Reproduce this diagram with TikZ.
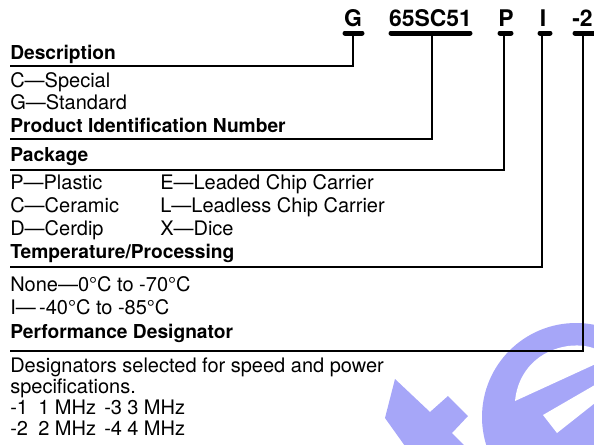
\documentclass[tikz,border=0pt]{standalone}
\usepackage{fontspec}
\setmainfont{TeX Gyre Heros}
\usetikzlibrary{calc}
\definecolor{wm}{RGB}{166,166,248}
\begin{document}
\begin{tikzpicture}[x=0.75pt,y=-0.75pt,
  txt/.style={anchor=base west,inner sep=0pt,font=\fontsize{15}{18}\selectfont},
  head/.style={anchor=base west,inner sep=0pt,font=\fontsize{14.4}{18}\selectfont\bfseries},
  code/.style={anchor=base,inner sep=0pt,font=\fontsize{17.2}{20}\selectfont\bfseries},
  bar/.style={line width=3.75pt,line cap=round},
  vline/.style={line width=1.2pt},
  hline/.style={line width=1.8pt}]
\useasboundingbox (0,0) rectangle (594,444);
% watermark
\fill[wm] (395,379) -- (430,412) -- (448,396) -- (468,416) -- (452,433) -- (465,446) -- (405,446) -- (385,418) -- cycle;
\fill[wm] (576,417) circle[radius=70.5pt];
\fill[white] (515,401) .. controls (518,370) and (540,350) .. (568,346) .. controls (585,344) and (596,348) .. (600,352) -- (600,362) -- cycle;
\fill[white] (543,415) -- (600,382) -- (600,399) -- (557,433) -- cycle;
% codes
\node[code] (cG) at (353,26) {G};
\node[code] (cN) at (430.5,26) {65SC51};
\node[code] (cP) at (506,26) {P};
\node[code] (cI) at (543,26) {I};
\node[code,anchor=base west] (cD) at (572,26) {-2};
\coordinate (bG1) at (345,33); \coordinate (bG2) at (362,33);
\coordinate (bN1) at (391,33); \coordinate (bN2) at (470,33);
\coordinate (bP1) at (500,33); \coordinate (bP2) at (511,33);
\coordinate (bI1) at (540,33); \coordinate (bI2) at (550,33);
\coordinate (bD1) at (575,33); \coordinate (bD2) at (600,33);
\draw[bar] (bG1) -- (bG2);
\draw[bar] (bN1) -- (bN2);
\draw[bar] (bP1) -- (bP2);
\draw[bar] (bI1) -- (bI2);
\draw[bar] (bD1) -- (bD2);
\coordinate (tG) at (353,33); \coordinate (kG) at (353,66); \coordinate (lG) at (10,66);
\coordinate (tN) at (432,33); \coordinate (kN) at (432,139); \coordinate (lN) at (10,139);
\coordinate (tP) at (504,33); \coordinate (kP) at (504,170); \coordinate (lP) at (10,170);
\coordinate (tI) at (542,33); \coordinate (kI) at (542,267); \coordinate (lI) at (10,267);
\coordinate (tD) at (583,33); \coordinate (kD) at (583,351); \coordinate (lD) at (10,351);
\draw[vline] (tG) -- (kG); \draw[hline] ([xshift=0.6pt]kG) -- (lG);
\draw[vline] (tN) -- (kN); \draw[hline] ([xshift=0.6pt]kN) -- (lN);
\draw[vline] (tP) -- (kP); \draw[hline] ([xshift=0.6pt]kP) -- (lP);
\draw[vline] (tI) -- (kI); \draw[hline] ([xshift=0.6pt]kI) -- (lI);
\draw[vline] (tD) -- (kD); \draw[hline] ([xshift=0.6pt]kD) -- (lD);
% texts
\node[head] (hDesc) at (10,59) {Description};
\node[txt] (dC) at (10,87) {C—Special};
\node[txt] (dG) at (10,109) {G—Standard};
\node[head] (hPIN) at (10,132) {Product Identification Number};
\node[head] (hPkg) at (10,161) {Package};
\node[txt] (pP) at (10,189) {P—Plastic};
\node[txt] (pE) at (160,189) {E—Leaded Chip Carrier};
\node[txt] (pC) at (10,212) {C—Ceramic};
\node[txt] (pL) at (160,212) {L—Leadless Chip Carrier};
\node[txt] (pD) at (10,235) {D—Cerdip};
\node[txt] (pX) at (160,235) {X—Dice};
\node[head] (hTemp) at (10,258) {Temperature/Processing};
\node[txt] (tNone) at (10,291) {None—0°C to -70°C};
\node[txt] (tInd) at (10,314) {I—\,-40°C to -85°C};
\node[head] (hPerf) at (10,338) {Performance Designator};
\node[txt] (fA) at (10,372) {Designators selected for speed and power};
\node[txt] (fB) at (10,393) {specifications.};
\node[txt] (m1) at (10,414) {-1};
\node[txt] (m1v) at (38,414) {1 MHz};
\node[txt] (m3) at (104,414) {-3};
\node[txt] (m3v) at (127,414) {3 MHz};
\node[txt] (m2) at (10,435) {-2};
\node[txt] (m2v) at (38,435) {2 MHz};
\node[txt] (m4) at (104,435) {-4};
\node[txt] (m4v) at (127,435) {4 MHz};
\end{tikzpicture}
\end{document}
